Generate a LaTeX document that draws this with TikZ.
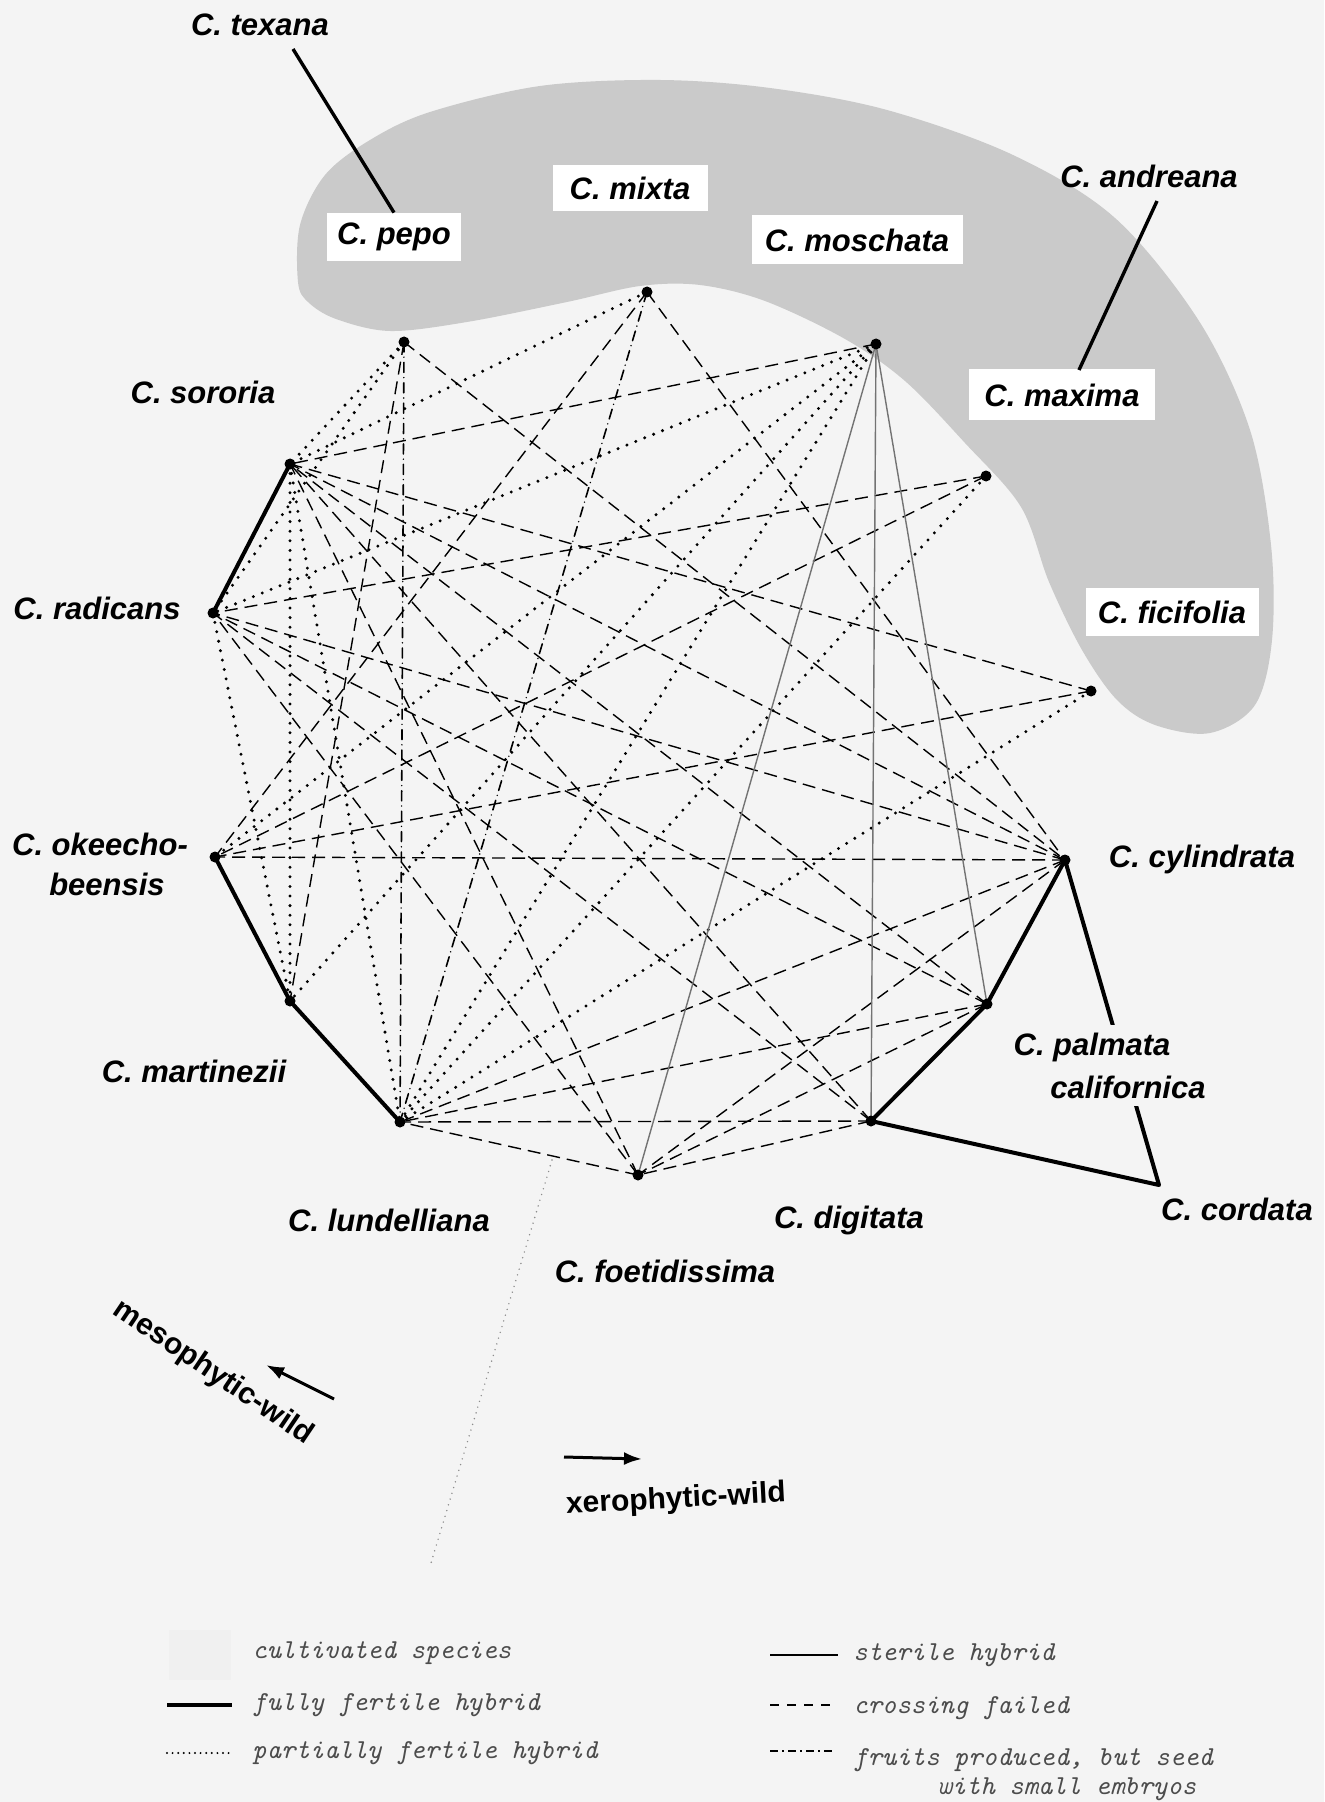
\documentclass[tikz,border=0pt]{standalone}
\usepackage{fontspec}
\setmainfont{Liberation Sans}
\usetikzlibrary{arrows.meta}
\definecolor{bg}{RGB}{244,244,244}
\definecolor{blob}{RGB}{202,202,202}
\begin{document}
\begin{tikzpicture}[x=0.5pt,y=-0.5pt,
  lab/.style={font=\fontsize{15.5}{18}\selectfont\bfseries\itshape, inner sep=0pt},
  cbox/.style={lab, fill=white},
  dot/.style={circle, fill=black, inner sep=0pt, minimum size=5.5pt},
  fert/.style={line width=2pt, line cap=round, line join=round},
  ster/.style={line width=0.7pt, draw=black!55},
  fail/.style={line width=0.7pt, dash pattern=on 6.5pt off 3.5pt},
  part/.style={line width=1.65pt, line cap=round, dash pattern=on 0pt off 4.8pt},
  embr/.style={line width=0.8pt, line cap=round, dash pattern=on 5pt off 2.6pt on 0pt off 2.6pt},
  leg/.style={font=\fontsize{13.7}{16}\selectfont\ttfamily\itshape, anchor=west, inner sep=0pt, text=black!70},
  wild/.style={font=\fontsize{15}{18}\selectfont\bfseries, inner sep=0pt},
  arr/.style={line width=1.5pt, -{Latex[length=9pt,width=6.5pt]}}
]
\fill[bg] (0,0) rectangle (1324,1802);
\useasboundingbox (0,0) rectangle (1324,1802);

% cultivated area
\fill[blob] plot[smooth cycle, tension=0.55] coordinates {
 (298,282) (300,225) (325,175) (370,140) (430,112) (540,86) (660,80) (770,88)
 (887,110) (1013,155) (1115,218) (1199,321) (1250,430) (1271,545) (1272,640)
 (1255,705) (1210,733) (1155,725) (1117,700) (1082,650) (1049,582) (1021,507)
 (965,443) (905,381) (845,339) (765,301) (700,285) (640,286) (567,302)
 (467,322) (390,331) (336,319) (308,302)};

% species points
\coordinate (P)  at (404,342);
\coordinate (Mi) at (647,292);
\coordinate (Mo) at (876,344);
\coordinate (Ma) at (986,476);
\coordinate (Fi) at (1091,691);
\coordinate (Cy) at (1065,860);
\coordinate (Pa) at (987,1004);
\coordinate (D)  at (871,1121);
\coordinate (Fo) at (638,1175);
\coordinate (L)  at (400,1122);
\coordinate (Mz) at (290,1001);
\coordinate (O)  at (215,857);
\coordinate (R)  at (213,613);
\coordinate (S)  at (290,464);
\coordinate (Co) at (1159,1185);

% crossing failed
\foreach \a/\b in {P/Mz, P/Cy, Mi/O, Mi/Cy, Mo/S, Ma/R, Ma/O, Fi/S, Fi/O,
  Cy/S, Cy/R, Cy/O, Cy/L, Cy/Fo, Pa/S, Pa/R, Pa/L, Pa/Fo,
  D/S, D/R, D/L, D/Fo, Fo/S, Fo/R, Fo/L}
  \draw[fail] (\a) -- (\b);
% fruits produced, small embryos
\foreach \a/\b in {P/L, Mi/L}
  \draw[embr] (\a) -- (\b);
% partially fertile
\foreach \a/\b in {P/S, P/R, Mi/S, Mo/R, Mo/O, Mo/Mz, Mo/L, Ma/L, Fi/L, S/Mz, S/L, R/Mz}
  \draw[part] (\a) -- (\b);
% sterile
\foreach \a/\b in {Mo/Fo, Mo/D, Mo/Pa}
  \draw[ster] (\a) -- (\b);
% fully fertile
\draw[fert] (S) -- (R);
\draw[fert] (O) -- (Mz) -- (L);
\draw[fert] (Cy) -- (Pa) -- (D) -- (Co) -- cycle;

% dots
\foreach \n in {P,Mi,Mo,Ma,Fi,Cy,Pa,D,Fo,L,Mz,O,R,S}
  \node[dot] (\n-d) at (\n) {};

% cultivated labels
\node[cbox, minimum width=67pt, minimum height=24pt] (pepo) at (394,237) {C. pepo};
\node[cbox, minimum width=77.5pt, minimum height=23pt] (mixta) at (630,188) {C. mixta};
\node[cbox, minimum width=105.5pt, minimum height=24.5pt] (moschata) at (857,240) {C. moschata};
\node[cbox, minimum width=93pt, minimum height=25.5pt] (maxima) at (1062,395) {C. maxima};
\node[cbox, minimum width=86.5pt, minimum height=24pt] (ficifolia) at (1172,612) {C. ficifolia};

\node[lab] (texana) at (260,25) {C. texana};
\node[lab] (andreana) at (1149,176) {C. andreana};
\coordinate (tx1) at (293,49);
\coordinate (an1) at (1157,201);
\coordinate (an2) at (1079,370);
\draw[line width=1.7pt] (tx1) -- (pepo.north);
\draw[line width=1.7pt] (an1) -- (an2);

% wild labels
\node[lab] (sororia) at (203,392) {C. sororia};
\node[lab] (radicans) at (97,608) {C. radicans};
\node[lab] (okee1) at (100,844) {C. okeecho-};
\node[lab] (okee2) at (107,884) {beensis};
\node[lab] (cylindrata) at (1202,859) {C. cylindrata};
\node[lab, fill=bg, inner sep=4pt] (palmata1) at (1092,1047) {C. palmata};
\node[lab, fill=bg, inner sep=4pt] (palmata2) at (1128,1087) {californica};
\node[lab] (martinezii) at (194,1071) {C. martinezii};
\node[lab] (lundelliana) at (389,1220) {C. lundelliana};
\node[lab] (foetidissima) at (665,1271) {C. foetidissima};
\node[lab] (digitata) at (849,1220) {C. digitata};
\node[lab] (cordata) at (1237,1209) {C. cordata};

% separator dotted line
\coordinate (sep1) at (552,1160);
\coordinate (sep2) at (431,1563);
\draw[line width=0.8pt, black!45, line cap=round, dash pattern=on 0pt off 3pt] (sep1) -- (sep2);

% directions
\node[wild, rotate=-34] (meso) at (213,1373) {mesophytic-wild};
\coordinate (ma1) at (334,1399);
\coordinate (ma2) at (266,1365);
\draw[arr] (ma1) -- (ma2);
\node[wild, rotate=3] (xero) at (676,1500) {xerophytic-wild};
\coordinate (xa1) at (564,1457);
\coordinate (xa2) at (642,1459);
\draw[arr] (xa1) -- (xa2);

% legend
\node[fill=black!6, minimum width=31pt, minimum height=25pt, inner sep=0pt] (swatch) at (200,1655) {};
\node[leg] (lg1) at (252,1653) {cultivated species};
\coordinate (l2a) at (167,1705); \coordinate (l2b) at (232,1705);
\draw[fert, line cap=butt] (l2a) -- (l2b);
\node[leg] (lg2) at (252,1705) {fully fertile hybrid};
\coordinate (l3a) at (167,1753); \coordinate (l3b) at (232,1753);
\draw[line width=1.1pt, line cap=round, dash pattern=on 0pt off 2.8pt] (l3a) -- (l3b);
\node[leg] (lg3) at (252,1753) {partially fertile hybrid};

\coordinate (r1a) at (770,1655); \coordinate (r1b) at (838,1655);
\draw[line width=1.2pt] (r1a) -- (r1b);
\node[leg] (rg1) at (853,1655) {sterile hybrid};
\coordinate (r2a) at (770,1705); \coordinate (r2b) at (834,1705);
\draw[line width=0.7pt, dash pattern=on 4.5pt off 4pt] (r2a) -- (r2b);
\node[leg] (rg2) at (853,1708) {crossing failed};
\coordinate (r3a) at (770,1751); \coordinate (r3b) at (834,1751);
\draw[line width=0.7pt, dash pattern=on 4pt off 2pt on 1pt off 2pt] (r3a) -- (r3b);
\node[leg] (rg3) at (853,1760) {fruits produced, but seed};
\node[leg] (rg4) at (937,1789) {with small embryos};
\end{tikzpicture}
\end{document}
